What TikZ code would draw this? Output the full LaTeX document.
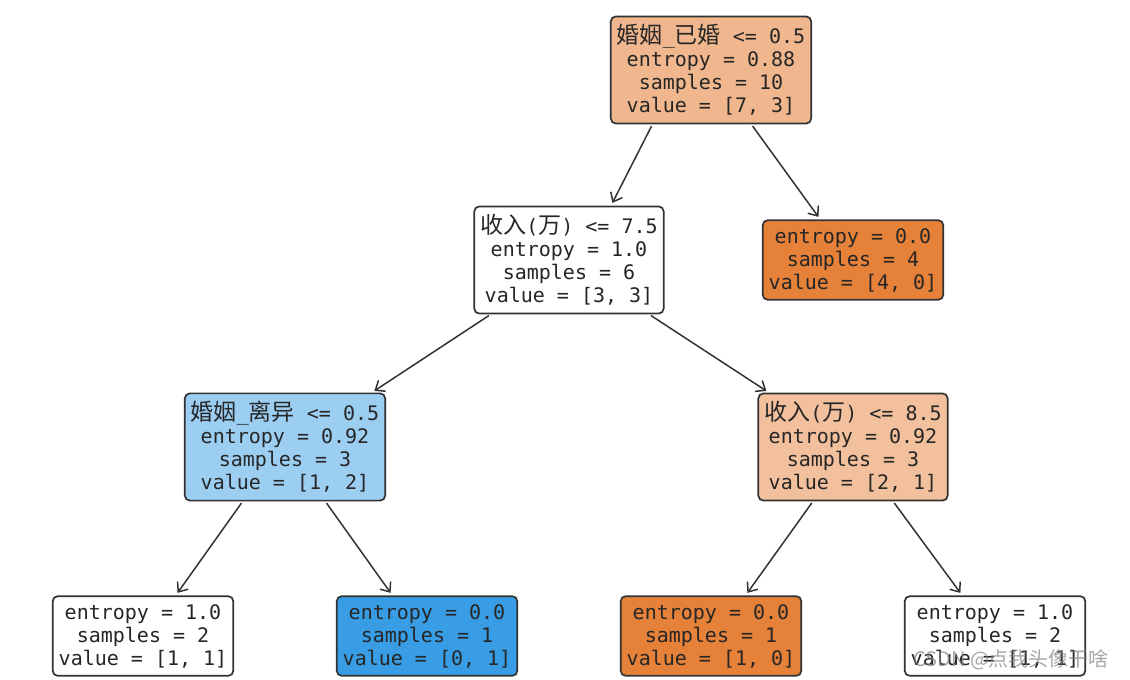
\documentclass[tikz,border=0pt]{standalone}
\usepackage{fontspec}
\setmonofont{DejaVu Sans Mono}
\newfontfamily\cjk[Scale=1.15]{Noto Sans CJK SC}
\newfontfamily\wmfont{Noto Sans CJK SC}
\usetikzlibrary{arrows.meta,calc}

\definecolor{rootcol}{RGB}{240,183,142}
\definecolor{lightor}{RGB}{242,192,156}
\definecolor{lightbl}{RGB}{156,206,242}
\definecolor{fullor}{RGB}{229,129,57}
\definecolor{fullbl}{RGB}{57,157,229}
\definecolor{linecol}{RGB}{50,50,50}

\tikzset{
    treenode/.style={draw=linecol, line width=1.7pt, rounded corners=5pt,
        align=center, inner xsep=6pt, inner ysep=8pt, text=black!85,
        font=\ttfamily\fontsize{20}{23}\selectfont},
    edge/.style={-{Straight Barb[length=8pt,width=13pt,line width=1.5pt]},
        line width=1.5pt, draw=linecol, shorten <=2pt, shorten >=3pt}
}

\begin{document}
\begin{tikzpicture}[x=1pt,y=-1pt]

    \useasboundingbox (0,0) rectangle (1130,680);

    %% Root split
    \node[treenode, fill=rootcol] (root) at (711,70)
        {{\cjk 婚姻}\_{\cjk 已婚} <= 0.5\\entropy = 0.88\\samples = 10\\value = [7, 3]};

    %% Second level
    \node[treenode, fill=white] (inc1) at (569,260)
        {{\cjk 收入}({\cjk 万}) <= 7.5\\entropy = 1.0\\samples = 6\\value = [3, 3]};
    \node[treenode, fill=fullor] (leafA) at (853,260)
        {entropy = 0.0\\samples = 4\\value = [4, 0]};

    %% Third level
    \node[treenode, fill=lightbl] (div) at (285,447)
        {{\cjk 婚姻}\_{\cjk 离异} <= 0.5\\entropy = 0.92\\samples = 3\\value = [1, 2]};
    \node[treenode, fill=lightor] (inc2) at (853,447)
        {{\cjk 收入}({\cjk 万}) <= 8.5\\entropy = 0.92\\samples = 3\\value = [2, 1]};

    %% Leaves
    \node[treenode, fill=white] (leafB) at (143,636)
        {entropy = 1.0\\samples = 2\\value = [1, 1]};
    \node[treenode, fill=fullbl] (leafC) at (427,636)
        {entropy = 0.0\\samples = 1\\value = [0, 1]};
    \node[treenode, fill=fullor] (leafD) at (711,636)
        {entropy = 0.0\\samples = 1\\value = [1, 0]};
    \node[treenode, fill=white] (leafE) at (995,636)
        {entropy = 1.0\\samples = 2\\value = [1, 1]};

    % Edges
    \draw[edge] ($(root.south west)!.21!(root.south east)$) -- ($(inc1.north west)!.72!(inc1.north east)$);
    \draw[edge] ($(root.south west)!.70!(root.south east)$) -- ($(leafA.north west)!.32!(leafA.north east)$);
    \draw[edge] ($(inc1.south west)!.09!(inc1.south east)$) -- ($(div.north west)!.93!(div.north east)$);
    \draw[edge] ($(inc1.south west)!.92!(inc1.south east)$) -- ($(inc2.north west)!.06!(inc2.north east)$);
    \draw[edge] ($(div.south west)!.29!(div.south east)$) -- ($(leafB.north west)!.68!(leafB.north east)$);
    \draw[edge] ($(div.south west)!.70!(div.south east)$) -- ($(leafC.north west)!.31!(leafC.north east)$);
    \draw[edge] ($(inc2.south west)!.29!(inc2.south east)$) -- ($(leafD.north west)!.69!(leafD.north east)$);
    \draw[edge] ($(inc2.south west)!.71!(inc2.south east)$) -- ($(leafE.north west)!.32!(leafE.north east)$);

    % Watermark
    \node[anchor=west, text=gray, opacity=0.7, inner sep=0pt,
        font=\wmfont\fontsize{20}{22}\selectfont] (mark) at (913,660) {CSDN @点我头像干啥};

\end{tikzpicture}
\end{document}
